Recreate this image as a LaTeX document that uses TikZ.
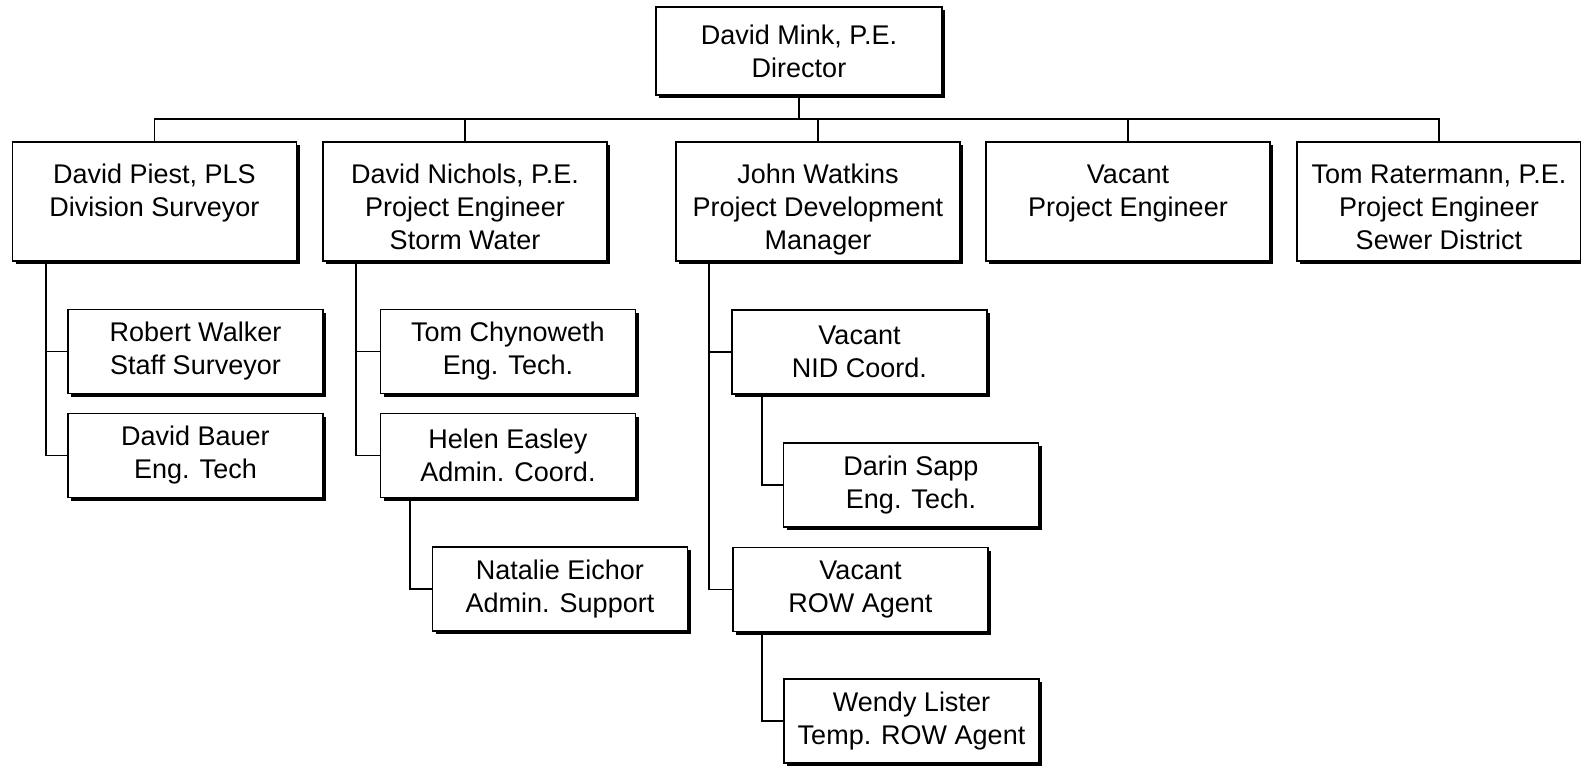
\documentclass[tikz,border=0pt]{standalone}
\usepackage{fontspec}
\setmainfont{Liberation Sans}
\usetikzlibrary{shadows}
\usetikzlibrary{calc}

\newcommand*{\toprow}{\rule{0pt}{20pt}}

\tikzset{
    orgbox/.style = {draw = black, fill = white, line width = 0.9pt,
                     align = center, inner sep = 0pt,
                     font = \fontsize{13.5}{16.5}\selectfont,
                     drop shadow = {shadow xshift = 1.5pt, shadow yshift = -1.5pt,
                                    fill = black, opacity = 1}},
    topbox/.style   = {orgbox, minimum width = 143pt,   minimum height = 44pt},
    headbox/.style  = {orgbox, minimum width = 142pt,   minimum height = 59.5pt},
    staffbox/.style = {orgbox, minimum width = 127.5pt, minimum height = 42pt},
    link/.style     = {black, line width = 0.9pt}
}

\begin{document}
\begin{tikzpicture}[x = 0.5pt, y = -0.5pt]

\useasboundingbox (0,0) rectangle (1581,767);

% director
\node[topbox] (dir) at (799,51) {David Mink, P.E.\\Director};

% first row
\node[headbox] (piest)   at (154.5,201.5) {\toprow David Piest, PLS\\Division Surveyor\\\strut};
\node[headbox] (nichols) at (465,201.5)   {\toprow David Nichols, P.E.\\Project Engineer\\Storm Water\strut};
\node[headbox] (watkins) at (818,201.5)   {\toprow John Watkins\\Project Development\\Manager\strut};
\node[headbox] (vacpe)   at (1128,201.5)  {\toprow Vacant\\Project Engineer\\\strut};
\node[headbox] (rater)   at (1439,201.5)  {\toprow Tom Ratermann, P.E.\\Project Engineer\\Sewer District\strut};

% staff
\node[staffbox] (walker) at (195.5,351.5) {Robert Walker\\Staff Surveyor};
\node[staffbox] (bauer)  at (195.5,455.5) {David Bauer\\Eng. Tech};
\node[staffbox] (chyno)  at (508,351.5)   {Tom Chynoweth\\Eng. Tech.};
\node[staffbox] (easley) at (508,455.5)   {Helen Easley\\Admin. Coord.};
\node[staffbox] (eichor) at (560,589)     {Natalie Eichor\\Admin. Support};
\node[staffbox] (nid)    at (859.5,352)   {Vacant\\NID Coord.};
\node[staffbox] (sapp)   at (911,485)     {Darin Sapp\\Eng. Tech.};
\node[staffbox] (row)    at (860.5,589.5) {Vacant\\ROW Agent};
\node[staffbox] (lister) at (911.5,721)   {Wendy Lister\\Temp. ROW Agent};

\draw[link] (dir.south) -- ++(0,23) coordinate (bus);

\foreach \HEAD in {piest, nichols, watkins, vacpe, rater}{
    \draw[link] (bus) -| (\HEAD.north);
    };

\foreach \BOSS/\SHIFT/\STAFF in {
                        piest/34/walker,
                        piest/34/bauer,
                        nichols/34/chyno,
                        nichols/34/easley,
                        easley/30/eichor,
                        watkins/34/nid,
                        nid/31/sapp,
                        watkins/34/row,
                        row/30/lister}{
    \draw[link] ($(\BOSS.south west)+(\SHIFT,0)$) |- (\STAFF.west);
    };

\end{tikzpicture}
\end{document}
